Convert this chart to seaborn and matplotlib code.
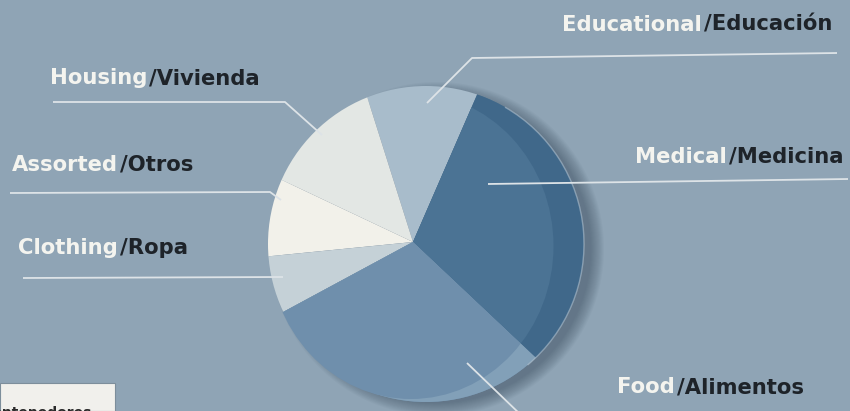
import matplotlib
matplotlib.use("Agg")
import matplotlib.pyplot as plt
from matplotlib.patches import Circle, Ellipse, Rectangle, Arc
import seaborn as sns

# Household spending shares (percent), counter-clockwise from the Food/Medical edge
categories_en = ["Medical", "Educational", "Housing", "Assorted", "Clothing", "Food"]
categories_es = ["Medicina", "Educación", "Vivienda", "Otros", "Ropa", "Alimentos"]
shares = [30.5, 11.4, 13.1, 8.6, 6.3, 30.1]

slice_colors = ["#4b7394", "#a8bccb", "#e3e7e4", "#f2f1ea", "#c5d1d7", "#6f8fac"]
rim_colors = {"Medical": "#40688a", "Food": "#82a0b8"}

sns.set_theme(style="white")
plt.rcParams["font.family"] = ["DejaVu Sans"]

W, H = 850, 411
BG = "#8fa4b5"
fig = plt.figure(figsize=(W / 100, H / 100), dpi=100, facecolor=BG)
ax = fig.add_axes([0, 0, 1, 1])


def Y(py):
    return H - py


vertex = (413, Y(242))
outer_c, outer_r = (426, Y(244)), 158

# soft drop shadow falling to the lower right of the disc
for i in range(14):
    ax.add_patch(Circle((437, Y(249)), outer_r + 9 - i, facecolor="#3a4c5e",
                        edgecolor="none", alpha=0.045, zorder=1))

outer_clip = Circle(outer_c, outer_r, transform=ax.transData)
inner_clip = Ellipse((411, Y(246)), 285, 306, transform=ax.transData)


def clipped(wedge_list, clip, z):
    for w in wedge_list:
        w.set_zorder(z)
        w.set_clip_on(True)
        w.set_clip_path(clip)


# base slices, clipped to the disc outline
wedges, _ = ax.pie(shares, colors=slice_colors, startangle=-43.3, counterclock=True,
                   center=vertex, radius=220, wedgeprops={"linewidth": 0})
clipped(wedges, outer_clip, 2)

# thick rim on the lower-right side of the disc
rim_cols = [rim_colors.get(c, "none") for c in categories_en]
rim_wedges, _ = ax.pie(shares, colors=rim_cols, startangle=-43.3, counterclock=True,
                       center=vertex, radius=220, wedgeprops={"linewidth": 0})
clipped(rim_wedges, outer_clip, 3)
top_cols = [slice_colors[i] if categories_en[i] in rim_colors else "none"
            for i in range(len(categories_en))]
top_wedges, _ = ax.pie(shares, colors=top_cols, startangle=-43.3, counterclock=True,
                       center=vertex, radius=220, wedgeprops={"linewidth": 0})
clipped(top_wedges, inner_clip, 4)

# faint highlight along the right edge
ax.add_patch(Arc(outer_c, 2 * outer_r, 2 * outer_r, theta1=-50, theta2=60,
                 color="#b9c8d4", lw=1.0, alpha=0.55, zorder=5))

ax.set_xlim(0, W)
ax.set_ylim(0, H)
ax.set_aspect("auto")
ax.axis("off")

# leader lines
LINE = "#dde3e7"
leaders = {
    "Educational": [(837, 53), (472, 58), (427, 103)],
    "Medical": [(848, 179), (488, 184)],
    "Food": [(467, 363), (522, 416)],
    "Housing": [(53, 102), (285, 102), (322, 135)],
    "Assorted": [(10, 193), (270, 192), (281, 200)],
    "Clothing": [(23, 278), (283, 277)],
}
for pts in leaders.values():
    ax.plot([p[0] for p in pts], [Y(p[1]) for p in pts], color=LINE, lw=1.3,
            solid_capstyle="butt", zorder=6)

# bilingual labels: English in white, "/ Spanish" in near-black
label_pos = {
    "Educational": (562, 25),
    "Medical": (635, 157),
    "Food": (617, 387),
    "Housing": (50, 78),
    "Assorted": (12, 165),
    "Clothing": (18, 248),
}
FS = 15.2
renderer = fig.canvas.get_renderer()
for en, es in zip(categories_en, categories_es):
    x, y = label_pos[en]
    t = ax.text(x, Y(y), en, color="#f4f4ef", fontsize=FS, fontweight="bold",
                va="center", ha="left", zorder=7)
    bb = t.get_window_extent(renderer)
    ax.text(bb.x1 + 2, Y(y), "/" + es, color="#1e2329", fontsize=FS,
            fontweight="bold", va="center", ha="left", zorder=7)

# corner of a white note box at the bottom-left
ax.add_patch(Rectangle((0, 0), 115, Y(383), facecolor="#f1f0ec", edgecolor="#7d8e9b",
                       lw=0.8, zorder=8))
ax.text(-18, Y(413), "Contenedores", color="#2a2a2a", fontsize=10, fontweight="bold",
        va="center", ha="left", zorder=9)

fig.savefig("out.png", dpi=100, facecolor=BG)
